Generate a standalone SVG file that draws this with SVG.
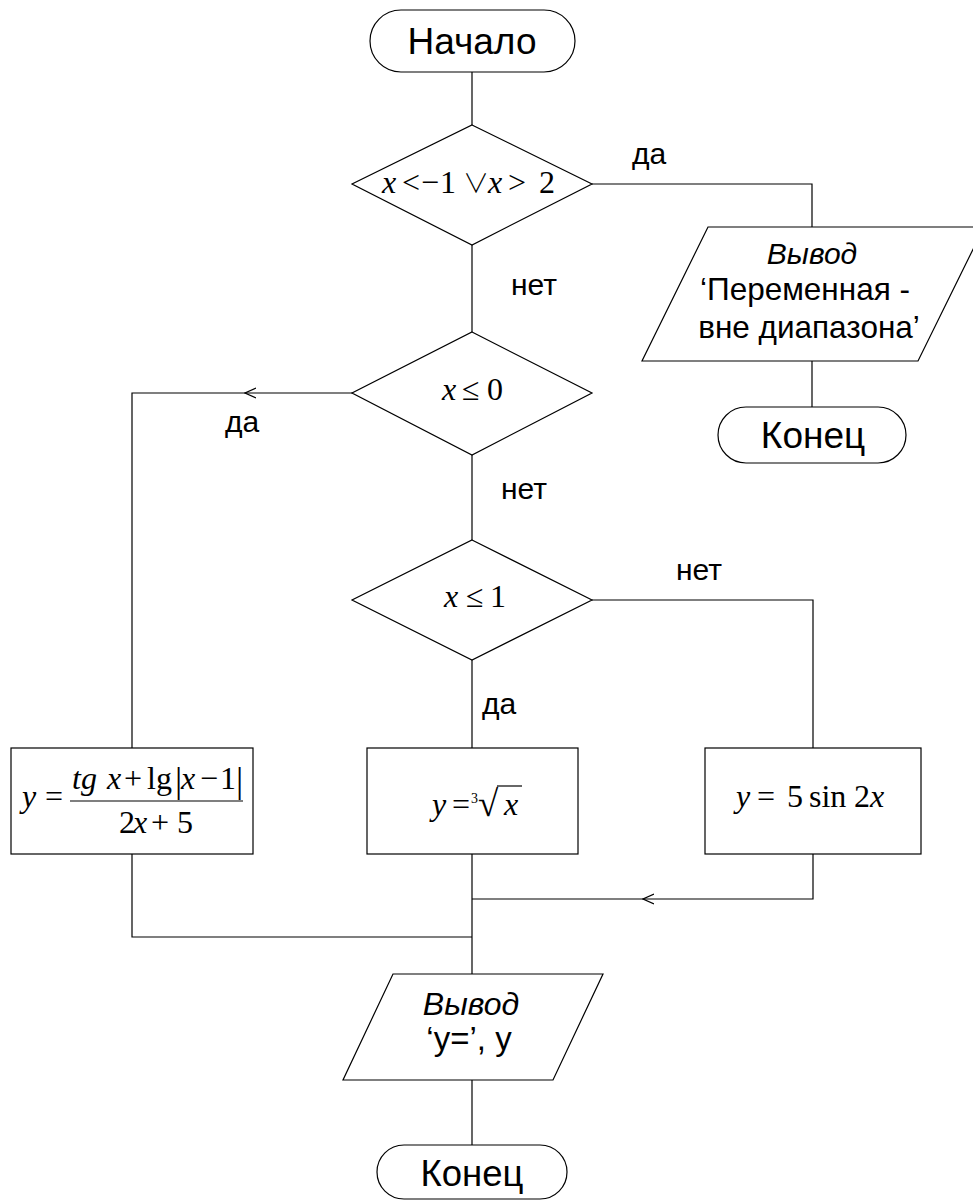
<svg xmlns="http://www.w3.org/2000/svg" width="973" height="1202" viewBox="0 0 973 1202">
  <style>
    .shape { fill: #fff; stroke: #000; stroke-width: 1.2; }
    .conn { fill: none; stroke: #000; stroke-width: 1.2; }
    .sans { font-family: "Liberation Sans", Arial, sans-serif; fill: #000; }
    .term { font-size: 37px; text-anchor: middle; }
    .lbl { font-size: 30px; }
    .io { text-anchor: middle; }
    .it { font-style: italic; }
    .math { font-family: "Liberation Serif", "Times New Roman", "DejaVu Serif", serif; font-size: 32px; fill: #000; }
    .mi { font-style: italic; }
    .sym { font-family: "Noto Sans CJK JP", "DejaVu Serif", serif; font-size: 26px; font-weight: 300; }
  </style>
  <defs>
    <marker id="chev" viewBox="0 0 12 12" refX="11" refY="6" markerWidth="12" markerHeight="12" markerUnits="userSpaceOnUse" orient="auto">
      <path d="M0,1 L11,6 L0,11" fill="none" stroke="#000" stroke-width="1.2"/>
    </marker>
  </defs>

  <!-- connectors -->
  <g id="connectors">
    <path class="conn" d="M472,72 V125"/>
    <path class="conn" d="M592,184 H812 V227"/>
    <path class="conn" d="M812,361 V407"/>
    <path class="conn" d="M472,245 V332"/>
    <path class="conn" d="M353,393 H245" marker-end="url(#chev)"/>
    <path class="conn" d="M245,393 H132 V748"/>
    <path class="conn" d="M472,455 V540"/>
    <path class="conn" d="M592,600 H813 V748"/>
    <path class="conn" d="M472,660 V748"/>
    <path class="conn" d="M132,854 V937 H472"/>
    <path class="conn" d="M813,854 V899 H643" marker-end="url(#chev)"/>
    <path class="conn" d="M643,899 H472"/>
    <path class="conn" d="M472,854 V974"/>
    <path class="conn" d="M472,1080 V1145"/>
  </g>

  <!-- branch labels -->
  <g id="labels" class="sans lbl">
    <text x="632" y="164">да</text>
    <text x="511" y="295">нет</text>
    <text x="225" y="432">да</text>
    <text x="501" y="499">нет</text>
    <text x="676" y="580">нет</text>
    <text x="482" y="714">да</text>
  </g>

  <g id="start">
    <rect class="shape" x="370" y="10" width="205" height="62" rx="31" ry="31"/>
    <text class="sans term" x="472" y="54">Начало</text>
  </g>

  <g id="cond-range">
    <polygon class="shape" points="472,125 592,184 472,245 352,184"/>
    <text class="math" y="193"><tspan class="mi" x="382">x</tspan><tspan x="402">&lt;</tspan><tspan x="421">−</tspan><tspan x="440">1</tspan><tspan class="sym" x="463">∨</tspan><tspan class="mi" x="488">x</tspan><tspan x="508">&gt;</tspan><tspan x="539">2</tspan></text>
  </g>

  <g id="out-range">
    <polygon class="shape" points="708,227 984,227 918,361 642,361"/>
    <text class="sans io it" x="812" y="264" style="font-size:30px">Вывод</text>
    <text class="sans io" x="805" y="300" style="font-size:31.5px">‘Переменная -</text>
    <text class="sans io" x="809" y="338" style="font-size:31.5px">вне диапазона’</text>
  </g>

  <g id="end-range">
    <rect class="shape" x="718" y="407" width="188" height="56" rx="28" ry="28"/>
    <text class="sans term" x="813" y="448">Конец</text>
  </g>

  <g id="cond-neg">
    <polygon class="shape" points="472,332 592,393 472,455 352,393"/>
    <text class="math" y="400"><tspan class="mi" x="442">x</tspan><tspan x="462">≤</tspan><tspan x="487">0</tspan></text>
  </g>

  <g id="cond-one">
    <polygon class="shape" points="472,540 592,600 472,660 352,600"/>
    <text class="math" y="607"><tspan class="mi" x="444">x</tspan><tspan x="466">≤</tspan><tspan x="490">1</tspan></text>
  </g>

  <g id="calc-neg">
    <rect class="shape" x="11" y="748" width="242" height="106"/>
    <text class="math" y="807"><tspan class="mi" x="22">y</tspan><tspan x="45">=</tspan></text>
    <text class="math" y="789"><tspan class="mi" x="72">tg</tspan><tspan class="mi" x="107">x</tspan><tspan x="124">+</tspan><tspan x="147">lg</tspan><tspan class="mi" x="181">x</tspan><tspan x="200">−</tspan><tspan x="220">1</tspan></text>
    <text class="math" y="792" style="font-size:36px"><tspan x="175">|</tspan><tspan x="236">|</tspan></text>
    <line class="conn" x1="70" y1="801" x2="243" y2="801"/>
    <text class="math" y="833"><tspan x="119">2</tspan><tspan class="mi" x="133">x</tspan><tspan x="151">+</tspan><tspan x="177">5</tspan></text>
  </g>

  <g id="calc-root">
    <rect class="shape" x="367" y="748" width="211" height="106"/>
    <text class="math" y="815"><tspan class="mi" x="432">y</tspan><tspan x="452">=</tspan></text>
    <text class="math" x="471" y="803" style="font-size:14px">3</text>
    <text class="math" x="478" y="816" style="font-size:37px">√</text>
    <line class="conn" x1="497" y1="786" x2="522" y2="786"/>
    <text class="math mi" x="504" y="815">x</text>
  </g>

  <g id="calc-sin">
    <rect class="shape" x="705" y="748" width="216" height="106"/>
    <text class="math" y="807"><tspan class="mi" x="736">y</tspan><tspan x="757">=</tspan><tspan x="787">5</tspan><tspan x="809">sin</tspan><tspan x="854">2</tspan><tspan class="mi" x="870">x</tspan></text>
  </g>

  <g id="out-y">
    <polygon class="shape" points="393,974 603,974 553,1080 343,1080"/>
    <text class="sans io it" x="471" y="1015" style="font-size:32px">Вывод</text>
    <text class="sans io" x="469" y="1050" style="font-size:33px">‘y=’, y</text>
  </g>

  <g id="end">
    <rect class="shape" x="377" y="1145" width="190" height="54" rx="27" ry="27"/>
    <text class="sans term" x="472" y="1186" style="font-size:36.5px">Конец</text>
  </g>
</svg>
